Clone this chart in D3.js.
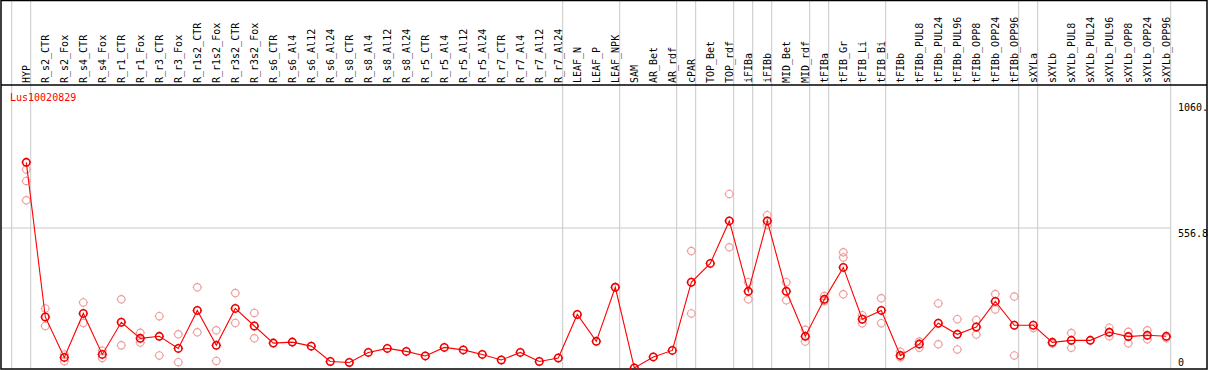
<!DOCTYPE html>
<html><head><meta charset="utf-8">
<script src="https://cdn.jsdelivr.net/npm/d3@7"></script>
<style>html,body{margin:0;padding:0;background:#fff;}svg{display:block;}</style>
</head><body>
<svg id="c" width="1209" height="370"></svg>
<script>
const title = "Lus10020829";
const categories = ["HYP","R_s2_CTR","R_s2_Fox","R_s4_CTR","R_s4_Fox","R_r1_CTR","R_r1_Fox","R_r3_CTR","R_r3_Fox","R_r1s2_CTR","R_r1s2_Fox","R_r3s2_CTR","R_r3s2_Fox","R_s6_CTR","R_s6_Al4","R_s6_Al12","R_s6_Al24","R_s8_CTR","R_s8_Al4","R_s8_Al12","R_s8_Al24","R_r5_CTR","R_r5_Al4","R_r5_Al12","R_r5_Al24","R_r7_CTR","R_r7_Al4","R_r7_Al12","R_r7_Al24","LEAF_N","LEAF_P","LEAF_NPK","SAM","AR_Bet","AR_rdf","cPAR","TOP_Bet","TOP_rdf","iFIBa","iFIBb","MID_Bet","MID_rdf","tFIBa","tFIB_Gr","tFIB_Li","tFIB_Bi","tFIBb","tFIBb_PUL8","tFIBb_PUL24","tFIBb_PUL96","tFIBb_OPP8","tFIBb_OPP24","tFIBb_OPP96","sXYLa","sXYLb","sXYLb_PUL8","sXYLb_PUL24","sXYLb_PUL96","sXYLb_OPP8","sXYLb_OPP24","sXYLb_OPP96"];
const means = [818,203,42,217,54,182,118,126,78,229,90,237,167,99,103,87,26,22,62,78,66,48,82,72,54,32,62,26,40,213,106,321,0,44,70,341,416,585,305,585,305,126,273,400,194,229,50,95,178,134,163,265,170,170,102,110,110,142,125,130,126];
const replicates = [[790,744,667],[237,167],[54,27],[261,179],[69,40],[273,90],[140,101],[206,50],[134,23],[321,142],[150,28],[298,179],[219,118],[],[],[],[],[],[],[],[],[],[],[],[],[],[],[],[],[],[],[],[],[],[],[465,217],[],[692,480],[341,273],[608,569],[341,269],[152,105],[286,266],[460,440,293],[210,178],[277,178],[65,43],[105,81],[257,94],[194,74],[191,133],[294,233],[284,50],[159],[97],[139,81],[],[160,126],[144,98],[150,114],[119]];
const groupEnds = [-1,0,28,31,34,35,37,38,39,41,42,45,52,53,60];
const yTicks = [0,556.8,1060];
const yTickLabels = ["0","556.8","1060."];

const svg = d3.select("#c");
const font = "'DejaVu Sans Mono', monospace";
const x = d3.scaleLinear().domain([0, categories.length-1]).range([26.3, 26.3 + 19*(categories.length-1)]);
const y = d3.scaleLinear().domain([0,1060]).range([368, 101.5]);
const gridC = "#c8c8c8";

// vertical group separators
svg.append("g").selectAll("line").data(groupEnds).join("line")
  .attr("x1", d => x(d)+4.4).attr("x2", d => x(d)+4.4)
  .attr("y1", 0).attr("y2", 369)
  .attr("stroke", gridC).attr("stroke-width", 1);

// horizontal grid at middle tick
svg.append("line").attr("x1", 1).attr("x2", x(60)+4.4)
  .attr("y1", y(556.8)).attr("y2", y(556.8))
  .attr("stroke", gridC).attr("stroke-width", 1);

// frame
svg.append("rect").attr("x",1).attr("y",0.5).attr("width",1206).attr("height",368.5)
  .attr("fill","none").attr("stroke","#000").attr("stroke-width",1.5);
svg.append("line").attr("x1",1).attr("x2",1207).attr("y1",85).attr("y2",85)
  .attr("stroke","#000").attr("stroke-width",1.3);

// category labels
svg.append("g").selectAll("text").data(categories).join("text")
  .attr("transform", (d,i) => `translate(${x(i)+3.5},83) rotate(-90)`)
  .attr("font-family", font).attr("font-size", 10).attr("fill","#000")
  .text(d => d);

// title
svg.append("text").attr("x",10).attr("y",101).attr("font-family",font).attr("font-size",10)
  .attr("fill","#ff0000").text(title);

// y tick labels
svg.append("g").selectAll("text").data(yTicks).join("text")
  .attr("x", 1178)
  .attr("y", (d,i) => d === 0 ? 366 : y(d)+9)
  .attr("font-family", font).attr("font-size", 10).attr("fill","#000")
  .text((d,i) => yTickLabels[i]);

function marker(g, cx, cy, color, sw) {
  g.append("circle").attr("cx",cx).attr("cy",cy).attr("r",3.7)
    .attr("fill","none").attr("stroke",color).attr("stroke-width",sw);
  const t = [[0,-1],[0,1],[-1,0],[1,0]];
  t.forEach(([dx,dy]) => g.append("line")
    .attr("x1",cx+dx*3.7).attr("y1",cy+dy*3.7).attr("x2",cx+dx*4.8).attr("y2",cy+dy*4.8)
    .attr("stroke",color).attr("stroke-width",0.9));
}

// replicates
const rg = svg.append("g");
replicates.forEach((reps,i) => reps.forEach(v => marker(rg, x(i), y(v), "#ee9a9a", 1.1)));

// mean line
svg.append("path").datum(means)
  .attr("d", d3.line().x((d,i)=>x(i)).y(d=>y(d)))
  .attr("fill","none").attr("stroke","#ff0000").attr("stroke-width",1.1);

// mean markers
const mg = svg.append("g");
means.forEach((v,i) => marker(mg, x(i), y(v), "#ee0000", 1.6));
</script>
</body></html>
